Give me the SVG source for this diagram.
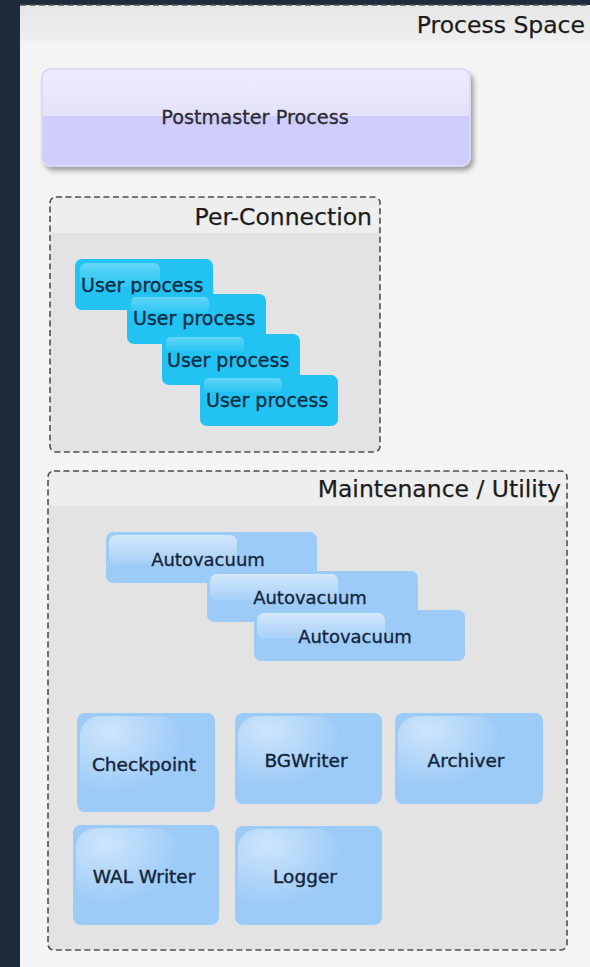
<svg xmlns="http://www.w3.org/2000/svg" width="590" height="967" viewBox="0 0 590 967">
<defs>
<style>
text{font-family:"DejaVu Sans","Liberation Sans",sans-serif;}
.title{font-size:23.5px;fill:#1c1c1c;text-anchor:end;stroke:#1c1c1c;stroke-width:0.25;}
.dash{fill:#e3e3e3;stroke:#4f4f4f;stroke-width:1.6;stroke-dasharray:6 3.5;}
.hdr{fill:#eeeeee;}
.cyan{fill:#22c3f3;}
.cyanhl{fill:url(#cyanGloss);}
.ut{font-size:19px;fill:#0f2c44;stroke:#0f2c44;stroke-width:0.35;}
.blue{fill:#9dcbf8;}
.bluehl{fill:url(#blueGloss);}
.at{font-size:18px;fill:#14243a;text-anchor:middle;stroke:#14243a;stroke-width:0.3;}
.bt{font-size:18.5px;fill:#14243a;text-anchor:middle;stroke:#14243a;stroke-width:0.4;}
.sqhl{fill:url(#sqGloss);}
</style>
<linearGradient id="hdrGrad" x1="0" y1="0" x2="0" y2="1">
<stop offset="0" stop-color="#e6e6e6"/>
<stop offset="1" stop-color="#efefef"/>
</linearGradient>
<linearGradient id="cyanGloss" x1="0" y1="0" x2="0" y2="1">
<stop offset="0" stop-color="#8fe4fb" stop-opacity="0.6"/>
<stop offset="1" stop-color="#55d3f8" stop-opacity="0.25"/>
</linearGradient>
<linearGradient id="blueGloss" x1="0" y1="0" x2="0" y2="1">
<stop offset="0" stop-color="#ffffff" stop-opacity="0.55"/>
<stop offset="1" stop-color="#ffffff" stop-opacity="0.1"/>
</linearGradient>
<radialGradient id="sqGloss" cx="0.3" cy="0.2" r="0.75">
<stop offset="0" stop-color="#ffffff" stop-opacity="0.5"/>
<stop offset="0.7" stop-color="#ffffff" stop-opacity="0.15"/>
<stop offset="1" stop-color="#ffffff" stop-opacity="0"/>
</radialGradient>
<linearGradient id="pmTop" x1="0" y1="0" x2="0" y2="1">
<stop offset="0" stop-color="#eeecfd"/>
<stop offset="1" stop-color="#e4e2fb"/>
</linearGradient>
<filter id="shadow" x="-10%" y="-20%" width="125%" height="150%">
<feDropShadow dx="3" dy="4" stdDeviation="2.5" flood-color="#000" flood-opacity="0.35"/>
</filter>
</defs>

<rect x="0" y="0" width="590" height="967" fill="#1f2a3c"/>
<g id="process-space">
<rect x="20" y="5" width="570" height="962" fill="#f4f4f4"/>
<rect x="20" y="5" width="570" height="36" fill="url(#hdrGrad)"/>
<line x1="20" y1="5" x2="590" y2="5" stroke="#555" stroke-width="1.5" stroke-dasharray="6 3.5"/>
<text class="title" x="585" y="33">Process Space</text>
</g>

<g id="postmaster">
<rect x="42" y="69" width="428" height="97" rx="9" fill="#cfcdfb" stroke="#d9d7f6" stroke-width="1.5" filter="url(#shadow)"/>
<path d="M51,69 H461 A9,9 0 0 1 470,78 V116 H42 V78 A9,9 0 0 1 51,69 Z" fill="url(#pmTop)"/>
<rect x="42" y="69" width="428" height="97" rx="9" fill="none" stroke="#d9d7f6" stroke-width="1.5"/>
<text x="255" y="124" font-size="19.3" fill="#2b2b33" stroke="#2b2b33" stroke-width="0.3" text-anchor="middle">Postmaster Process</text>
</g>

<g id="per-connection">
<rect class="dash" x="50" y="197" width="330" height="255" rx="6"/>
<rect class="hdr" x="51" y="198" width="328" height="35" rx="5"/>
<text class="title" x="372" y="225">Per-Connection</text>
</g>

<g id="user-process-1">
<rect class="cyan" x="75" y="259" width="138" height="51" rx="7"/>
<rect class="cyanhl" x="80" y="263" width="80" height="24" rx="6"/>
<text class="ut" x="81" y="292">User process</text>
</g>
<g id="user-process-2">
<rect class="cyan" x="127" y="294" width="139" height="50" rx="7"/>
<rect class="cyanhl" x="131" y="297" width="78" height="16" rx="5"/>
<text class="ut" x="133" y="325">User process</text>
</g>
<g id="user-process-3">
<rect class="cyan" x="162" y="334" width="138" height="51" rx="7"/>
<rect class="cyanhl" x="166" y="337" width="78" height="14" rx="5"/>
<text class="ut" x="167" y="367">User process</text>
</g>
<g id="user-process-4">
<rect class="cyan" x="200" y="375" width="138" height="51" rx="7"/>
<rect class="cyanhl" x="204" y="378" width="78" height="14" rx="5"/>
<text class="ut" x="206" y="407">User process</text>
</g>

<g id="maintenance">
<rect class="dash" x="48" y="471" width="519" height="479" rx="6"/>
<rect class="hdr" x="49" y="472" width="517" height="34" rx="5"/>
<text class="title" x="561" y="497">Maintenance / Utility</text>
</g>

<g id="autovacuum-1">
<rect class="blue" x="106" y="532" width="211" height="51" rx="7"/>
<rect class="bluehl" x="109" y="535" width="128" height="29" rx="7"/>
<text class="at" x="208" y="566">Autovacuum</text>
</g>
<g id="autovacuum-2">
<rect class="blue" x="207" y="571" width="211" height="51" rx="7"/>
<rect class="bluehl" x="210" y="574" width="128" height="26" rx="7"/>
<text class="at" x="310" y="604">Autovacuum</text>
</g>
<g id="autovacuum-3">
<rect class="blue" x="254" y="610" width="211" height="51" rx="7"/>
<rect class="bluehl" x="257" y="613" width="128" height="26" rx="7"/>
<text class="at" x="355" y="643">Autovacuum</text>
</g>

<g id="checkpoint">
<rect class="blue" x="77" y="713" width="138" height="99" rx="8"/>
<rect class="sqhl" x="80" y="716" width="100" height="80" rx="20"/>
<text class="bt" x="144" y="771">Checkpoint</text>
</g>
<g id="bgwriter">
<rect class="blue" x="235" y="713" width="147" height="91" rx="8"/>
<rect class="sqhl" x="238" y="716" width="100" height="74" rx="20"/>
<text class="bt" x="306" y="767">BGWriter</text>
</g>
<g id="archiver">
<rect class="blue" x="395" y="713" width="148" height="91" rx="8"/>
<rect class="sqhl" x="398" y="716" width="100" height="74" rx="20"/>
<text class="bt" x="466" y="767">Archiver</text>
</g>
<g id="wal-writer">
<rect class="blue" x="73" y="825" width="146" height="100" rx="8"/>
<rect class="sqhl" x="76" y="828" width="100" height="80" rx="20"/>
<text class="bt" x="144" y="883">WAL Writer</text>
</g>
<g id="logger">
<rect class="blue" x="235" y="826" width="147" height="99" rx="8"/>
<rect class="sqhl" x="238" y="829" width="100" height="80" rx="20"/>
<text class="bt" x="305" y="883">Logger</text>
</g>

<g id="connectors"></g>
</svg>
